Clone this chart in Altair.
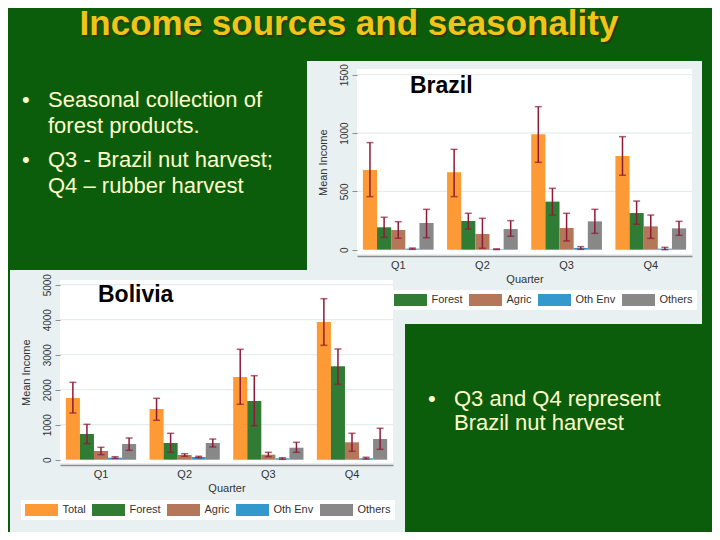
import altair as alt
import pandas as pd

FONT = "Liberation Sans"
GREEN = "#0b5d0b"
PANEL = "#e9f0f2"
ERR = "#8e1a36"

title_text = "Income sources and seasonality"
bullets_left = [["Seasonal collection of", "forest products."],
                ["Q3 - Brazil nut harvest;", "Q4 \u2013 rubber harvest"]]
bullets_right = [["Q3 and Q4 represent", "Brazil nut harvest"]]

quarters = ["Q1", "Q2", "Q3", "Q4"]
series = ["Total", "Forest", "Agric", "Oth Env", "Others"]
colors = ["#fd9a35", "#317c34", "#b5775a", "#3399cc", "#888888"]

# rows = quarters, columns = series (Total, Forest, Agric, Oth Env, Others)
brazil_mean = [[683, 192, 169, 9, 229],
               [663, 246, 135, 4, 177],
               [989, 412, 186, 15, 243],
               [803, 314, 200, 9, 183]]
brazil_low = [[455, 106, 98, 3, 103],
              [455, 177, 12, 1, 115],
              [749, 297, 75, 3, 140],
              [638, 218, 97, 0, 123]]
brazil_high = [[918, 278, 240, 14, 346],
               [860, 312, 269, 7, 249],
               [1226, 526, 312, 26, 346],
               [969, 417, 297, 20, 243]]
brazil_ticks = [0, 500, 1000, 1500]

bolivia_mean = [[1763, 734, 248, 57, 448],
                [1449, 477, 134, 77, 477],
                [2363, 1677, 143, 40, 343],
                [3934, 2668, 497, 40, 591]]
bolivia_low = [[1334, 457, 143, 40, 268],
               [1126, 211, 97, 57, 363],
               [1583, 971, 86, 10, 211],
               [3268, 2154, 240, 20, 297]]
bolivia_high = [[2211, 1011, 354, 86, 620],
                [1754, 754, 171, 97, 591],
                [3154, 2400, 211, 57, 497],
                [4600, 3163, 754, 69, 897]]
bolivia_ticks = [0, 1000, 2000, 3000, 4000, 5000]


def table(mean, low, high):
    rows = []
    for qi, q in enumerate(quarters):
        for si, s in enumerate(series):
            rows.append(dict(quarter=q, series=s, mean=mean[qi][si],
                             low=low[qi][si], high=high[qi][si]))
    return pd.DataFrame(rows)


one = pd.DataFrame({"k": [0]})
SYM = "M-2.75,-1H2.75V1H-2.75Z"


def box(color, x0, x1, y0, y1):
    return alt.Chart(one).mark_rect(color=color).encode(
        x=alt.value(x0), x2=alt.value(x1), y=alt.value(y0), y2=alt.value(y1))


def text(t, x, y, size, color, weight="normal", align="left", dx=0, dy=0):
    return alt.Chart(one).mark_text(
        text=t, font=FONT, fontSize=size, fontWeight=weight, color=color,
        align=align, baseline="alphabetic", dx=dx, dy=dy
    ).encode(x=alt.value(x), y=alt.value(y))


def panel(df, name, ticks, bg, plot, xaxis_off, yaxis_off, y0, ytop,
          label_xy, legend_xy, legend_values):
    px0, px1, py0, py1 = plot
    xsc = alt.Scale(domain=quarters, range=[px0, px1], paddingInner=0.16, paddingOuter=0.07)
    ysc = alt.Scale(domain=[ticks[0], ticks[-1]], range=[y0, ytop], nice=False, zero=True)
    xax = alt.Axis(orient="bottom", offset=xaxis_off, ticks=False, grid=False,
                   domainColor="#8c8c8c", domainWidth=1.5, labelFont=FONT,
                   labelFontSize=11, labelColor="#333333", labelPadding=3, labelAngle=0,
                   title="Quarter", titleFont=FONT, titleFontSize=11,
                   titleFontWeight="normal", titleColor="#333333", titlePadding=3,
                   zindex=1)
    yax = alt.Axis(orient="left", offset=yaxis_off, values=ticks, format="d",
                   domain=False, grid=False, ticks=True, tickSize=5,
                   tickColor="#8c8c8c", labelAngle=270, labelFont=FONT,
                   labelFontSize=10, labelColor="#333333", labelPadding=3,
                   title="Mean Income", titleFont=FONT, titleFontSize=11,
                   titleFontWeight="normal", titleColor="#333333", titlePadding=11,
                   zindex=1)
    base = alt.Chart(df)
    xenc = alt.X("quarter:N", scale=xsc, sort=quarters, axis=xax)
    xoff = alt.XOffset("series:N", sort=series)

    grid = alt.Chart(pd.DataFrame({"mean": ticks[1:]})).mark_rule(
        color="#e1e7e9", strokeWidth=1).encode(
        y=alt.Y("mean:Q", scale=ysc, axis=yax),
        x=alt.value(px0), x2=alt.value(px1))

    bars = base.mark_bar().encode(
        x=xenc,
        xOffset=xoff,
        y=alt.Y("mean:Q", scale=ysc, axis=yax),
        color=alt.Color("series:N",
                        scale=alt.Scale(domain=series, range=colors),
                        legend=alt.Legend(
                            orient="none", legendX=legend_xy[0], legendY=legend_xy[1],
                            direction="horizontal", columns=len(legend_values),
                            title=None, values=legend_values,
                            symbolType=SYM, symbolSize=144, symbolStrokeWidth=0,
                            symbolOpacity=1, symbolOffset=10.5, labelOffset=15,
                            labelFont=FONT, labelFontSize=11, labelColor="#333333",
                            columnPadding=6, padding=4, fillColor="white")))

    rules = base.mark_rule(color=ERR, strokeWidth=1.5).encode(
        x=xenc, xOffset=xoff,
        y=alt.Y("low:Q", scale=ysc, axis=yax), y2="high:Q")
    cap_lo = base.mark_tick(color=ERR, size=7, thickness=1.5).encode(
        x=xenc, xOffset=xoff, y=alt.Y("low:Q", scale=ysc, axis=yax))
    cap_hi = base.mark_tick(color=ERR, size=7, thickness=1.5).encode(
        x=xenc, xOffset=xoff, y=alt.Y("high:Q", scale=ysc, axis=yax))

    label = text(name, label_xy[0], label_xy[1], 23, "black", weight="bold")

    return alt.layer(box(PANEL, *bg), box("white", px0, px1, py0, py1),
                     grid, bars, rules, cap_lo, cap_hi, label)


brazil = panel(table(brazil_mean, brazil_low, brazil_high), "Brazil", brazil_ticks,
               bg=(299, 694, 53, 316), plot=(349, 684, 61, 246),
               xaxis_off=248 - 524, yaxis_off=-349, y0=241.7, ytop=66.7,
               label_xy=(402, 85), legend_xy=(382, 282),
               legend_values=["Forest", "Agric", "Oth Env", "Others"])
bolivia = panel(table(bolivia_mean, bolivia_low, bolivia_high), "Bolivia", bolivia_ticks,
                bg=(2, 397, 262, 524), plot=(52, 385, 272, 455),
                xaxis_off=457 - 524, yaxis_off=-52, y0=451.7, ytop=276.7,
                label_xy=(90, 294), legend_xy=(13, 492),
                legend_values=series)

layers = [
    text(title_text, 341, 27, 35, "#1d3f06", weight="bold", align="center", dx=2, dy=2),
    text(title_text, 341, 27, 35, "#f0c419", weight="bold", align="center"),
]
left_base = [98.7, 159]
for i, lines in enumerate(bullets_left):
    layers.append(text("\u2022", 14, left_base[i], 22, "#ffffcc"))
    for j, ln in enumerate(lines):
        layers.append(text(ln, 40, left_base[i] + 26.3 * j, 22, "#ffffcc"))
for i, lines in enumerate(bullets_right):
    layers.append(text("\u2022", 420, 398, 22, "#ffffcc"))
    for j, ln in enumerate(lines):
        layers.append(text(ln, 446, 398 + 24 * j, 22, "#ffffcc"))

chart = alt.layer(*layers, brazil, bolivia).resolve_scale(
    x="independent", y="independent", xOffset="independent", color="independent"
).properties(
    width=704, height=524, padding=0, background=GREEN,
    autosize=alt.AutoSizeParams(type="none")
).configure_view(strokeWidth=0)

chart.save("out.html", embed_options={"renderer": "svg", "actions": False})
